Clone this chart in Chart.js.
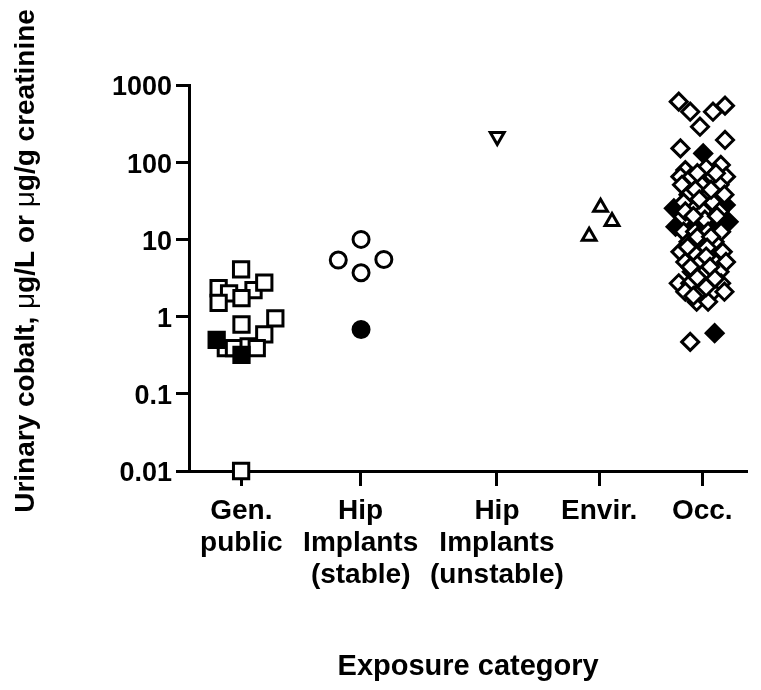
<!DOCTYPE html>
<html>
<head>
<meta charset="utf-8">
<script src="https://cdn.jsdelivr.net/npm/chart.js@4/dist/chart.umd.min.js"></script>
<style>
  html, body { margin: 0; padding: 0; background: #fff; }
  #wrap { width: 761px; height: 690px; }
</style>
</head>
<body>
<div id="wrap"><canvas id="chart" width="761" height="690"></canvas></div>
<script>
// categories, their positions on the x axis, y ticks
var catLabels = [['Gen.', 'public'], ['Hip', 'Implants', '(stable)'], ['Hip', 'Implants', '(unstable)'], ['Envir.'], ['Occ.']];
var catPos = [5.35, 17.56, 31.5, 41.96, 52.5];
var yTicks = [0.01, 0.1, 1, 10, 100, 1000];

// Gen. public (squares)
var genOpenX = [5.33, 3.03, 4.1, 6.6, 7.7, 5.37, 3.03, 5.37, 8.83, 7.7, 3.77, 4.6, 6.1, 6.93, 5.33];
var genOpenY = [4.1, 2.33, 2.0, 2.21, 2.75, 1.73, 1.51, 0.79, 0.95, 0.59, 0.39, 0.39, 0.41, 0.39, 0.01];
var genFilledX = [2.83, 5.37];
var genFilledY = [0.50, 0.32];

// Hip implants, stable (circles)
var stableOpenX = [17.6, 15.27, 19.93, 17.6];
var stableOpenY = [10.0, 5.4, 5.5, 3.7];
var stableFilledX = [17.6];
var stableFilledY = [0.68];

// Hip implants, unstable (inverted triangle)
var unstableX = [31.53];
var unstableY = [215];

// Environmental (triangles)
var envirX = [42.1, 43.27, 40.93];
var envirY = [26, 17, 11];

// Occupational (diamonds)
var occOpenX = [50.1, 51.27, 52.27, 53.6, 54.83, 50.27, 54.83, 50.77, 52.9, 54.4,
  50.27, 51.43, 53.6, 54.93, 50.43, 52.43, 54.27, 51.1, 53.1, 54.77,
  50.6, 53.6, 50.77, 52.6, 54.27, 52.77, 50.6, 51.77, 53.1, 54.43,
  51.1, 52.43, 53.77, 50.27, 51.6, 54.6, 50.77, 52.27, 53.77, 54.93,
  51.43, 52.77, 54.27, 50.1, 51.27, 54.43, 50.77, 52.27, 53.6, 54.77,
  51.93, 53.1, 51.27,
  52.0, 53.9, 51.8, 53.4, 52.2, 51.6, 54.0, 52.0, 53.4, 51.0,
  53.0, 52.9, 51.3, 53.3, 52.0, 53.8, 52.9, 51.6];
var occOpenY = [608, 451, 288, 451, 540, 151, 194, 79, 84, 92,
  65, 65, 65, 65, 51, 51, 51, 38, 38, 38,
  30, 30, 23, 23, 23, 18, 12.6, 12.6, 12.6, 12.6,
  9.3, 9.3, 9.3, 6.9, 6.9, 6.9, 5.1, 5.1, 5.1, 5.1,
  3.8, 3.8, 3.8, 2.7, 2.7, 2.7, 2.1, 2.1, 2.1, 2.1,
  1.56, 1.56, 0.47,
  72, 72, 44, 44, 33, 20, 20, 10.8, 10.8, 8,
  7.8, 6.0, 4.4, 4.4, 3.2, 3.1, 2.4, 1.85];
var occFilledX = [52.6, 49.6, 54.9, 49.77, 55.2, 51.7, 53.5, 53.77];
var occFilledY = [130, 25.3, 27.9, 14.6, 16.9, 14.9, 15.9, 0.61];

function pts(xs, ys) { return xs.map(function (x, i) { return { x: x, y: ys[i] }; }); }

function marks(xs, ys, style, radius, filled, order, rotation) {
  return {
    data: pts(xs, ys),
    pointStyle: style,
    pointRadius: radius,
    pointHoverRadius: radius,
    pointRotation: rotation || 0,
    pointBorderWidth: 3,
    pointBorderColor: '#000',
    pointBackgroundColor: filled ? '#000' : '#fff',
    showLine: false,
    clip: false,
    order: order
  };
}

// y title drawn by hand: the mu is in a lighter face
var yTitle = {
  id: 'yTitle',
  afterDraw: function (chart) {
    var ctx = chart.ctx;
    var parts = [['Urinary cobalt, ', 'bold'], ['\u03bc', 'normal'], ['g/L or ', 'bold'], ['\u03bc', 'normal'], ['g/g creatinine', 'bold']];
    ctx.save();
    ctx.translate(34, 261);
    ctx.rotate(-Math.PI / 2);
    ctx.fillStyle = '#000';
    ctx.textBaseline = 'alphabetic';
    ctx.textAlign = 'left';
    var total = 0;
    parts.forEach(function (p) { ctx.font = p[1] + ' 28px "Liberation Sans"'; total += ctx.measureText(p[0]).width; });
    var x = -total / 2;
    parts.forEach(function (p) {
      ctx.font = p[1] + ' 28px "Liberation Sans"';
      ctx.fillText(p[0], x, 0);
      x += ctx.measureText(p[0]).width;
    });
    ctx.restore();
  }
};

Chart.defaults.font.family = '"Liberation Sans", Arial, sans-serif';
Chart.defaults.color = '#000';

new Chart(document.getElementById('chart'), {
  type: 'scatter',
  data: {
    datasets: [
      marks(genOpenX, genOpenY, 'rect', 10.8, false, 3),
      marks(genFilledX, genFilledY, 'rect', 10.8, true, 2),
      marks(stableOpenX, stableOpenY, 'circle', 8, false, 3),
      marks(stableFilledX, stableFilledY, 'circle', 8, true, 2),
      marks(unstableX, unstableY, 'triangle', 8, false, 3, 180),
      marks(envirX, envirY, 'triangle', 8, false, 3),
      marks(occFilledX, occFilledY, 'rectRot', 8.5, true, 5),
      marks(occOpenX, occOpenY, 'rectRot', 8.5, false, 4)
    ]
  },
  options: {
    responsive: false,
    animation: false,
    events: [],
    layout: { padding: { top: 85, right: 1, left: 0, bottom: 0 } },
    plugins: { legend: { display: false }, tooltip: { enabled: false } },
    scales: {
      x: {
        type: 'linear',
        min: 0,
        max: 57.1,
        afterFit: function (s) { s.height = 219; },
        afterBuildTicks: function (s) { s.ticks = catPos.map(function (v) { return { value: v }; }); },
        border: { color: '#000', width: 3 },
        grid: { drawOnChartArea: false, drawTicks: true, tickLength: 15, tickWidth: 3, tickColor: '#000' },
        ticks: {
          autoSkip: false,
          maxRotation: 0,
          padding: 9,
          font: { size: 28, weight: 'bold', lineHeight: 1.15 },
          callback: function (v, i) { return catLabels[i]; }
        },
        title: {
          display: true,
          text: 'Exposure category',
          font: { size: 29, weight: 'bold' },
          padding: { top: 0, bottom: 6 }
        }
      },
      y: {
        type: 'logarithmic',
        min: 0.01,
        max: 1000,
        afterFit: function (s) { s.width = 189; },
        afterBuildTicks: function (s) { s.ticks = yTicks.map(function (v) { return { value: v }; }); },
        border: { color: '#000', width: 3 },
        grid: { drawOnChartArea: false, drawTicks: true, tickLength: 13, tickWidth: 3, tickColor: '#000' },
        ticks: {
          padding: 4,
          labelOffset: 3,
          font: { size: 27, weight: 'bold' },
          callback: function (v) { return String(v); }
        }
      }
    }
  },
  plugins: [yTitle]
});
</script>
</body>
</html>
